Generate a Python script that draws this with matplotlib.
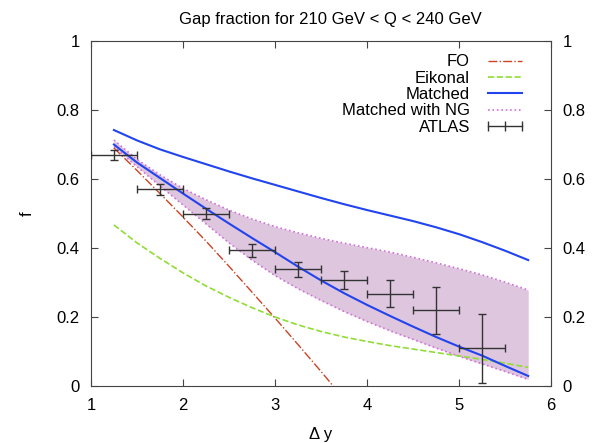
import numpy as np
import matplotlib
matplotlib.use("Agg")
import matplotlib.pyplot as plt
from matplotlib.lines import Line2D

plt.rcParams['font.family'] = ['Liberation Sans', 'DejaVu Sans']

# valeurs
dy = [1.25, 1.5, 1.75, 2.0, 2.25, 2.5, 2.75, 3.0, 3.25, 3.5, 3.75,
      4.0, 4.25, 4.5, 4.75, 5.0, 5.25, 5.5, 5.75]
fo_x = [1.25, 1.5, 1.75, 2.0, 2.25, 2.5, 2.75, 3.0, 3.25, 3.5, 3.75]
fo_y = [0.69, 0.625, 0.558, 0.49, 0.42, 0.347, 0.272, 0.197, 0.12, 0.042, -0.038]
eikonal = [0.467, 0.415, 0.37, 0.328, 0.29, 0.257, 0.227, 0.2, 0.177, 0.158, 0.142,
           0.129, 0.117, 0.107, 0.097, 0.087, 0.077, 0.066, 0.054]
matched = [0.742, 0.712, 0.686, 0.664, 0.643, 0.622, 0.602, 0.583, 0.564, 0.545, 0.527,
           0.510, 0.494, 0.478, 0.460, 0.440, 0.417, 0.392, 0.365]
matched_low = [0.70, 0.648, 0.603, 0.558, 0.514, 0.471, 0.429, 0.388, 0.346, 0.306, 0.269,
               0.235, 0.203, 0.172, 0.142, 0.114, 0.088, 0.058, 0.029]
ng_high = [0.713, 0.657, 0.612, 0.573, 0.54, 0.51, 0.484, 0.462, 0.444, 0.428, 0.414,
           0.401, 0.388, 0.373, 0.357, 0.34, 0.322, 0.301, 0.278]
ng_low = [0.694, 0.636, 0.58, 0.525, 0.47, 0.415, 0.365, 0.32, 0.282, 0.248, 0.216,
          0.187, 0.16, 0.135, 0.11, 0.086, 0.064, 0.042, 0.019]

atlas_x = [1.25, 1.75, 2.25, 2.75, 3.25, 3.75, 4.25, 4.75, 5.25]
atlas_y = [0.67, 0.57, 0.50, 0.393, 0.338, 0.307, 0.268, 0.219, 0.109]
atlas_err = [0.015, 0.016, 0.017, 0.019, 0.021, 0.027, 0.039, 0.068, 0.10]
atlas_xerr = [0.25] * 9

fig = plt.figure(figsize=(5.94, 4.43), dpi=100)
ax = fig.add_axes([0.153, 0.1287, 0.775, 0.7787])

# bande NG
ax.fill_between(dy, ng_low, ng_high, color='#dfc6df', lw=0, zorder=1)
ax.plot(dy, ng_high, ls=':', color='#d070d8', lw=1.2, zorder=2)
ax.plot(dy, ng_low, ls=':', color='#d070d8', lw=1.2, zorder=2)

ax.plot(fo_x, fo_y, ls='-.', color='#cc4422', lw=1.0, zorder=3)
ax.plot(dy, eikonal, ls='--', color='#90dd33', lw=1.2, zorder=3)
ax.plot(dy, matched, '-', color='#2244ee', lw=1.5, zorder=4)
ax.plot(dy, matched_low, '-', color='#2244ee', lw=1.5, zorder=4)

ax.errorbar(atlas_x, atlas_y, yerr=atlas_err, xerr=atlas_xerr, fmt='none',
            ecolor='#333333', elinewidth=1.0, capsize=3, capthick=1.0, zorder=5)

ax.set_xlim(1, 6)
ax.set_ylim(0, 1)
ax.set_xticks([1, 2, 3, 4, 5, 6])
ax.set_yticks([0, 0.2, 0.4, 0.6, 0.8, 1])
ax.set_yticklabels(['0', '0.2', '0.4', '0.6', '0.8', '1'])
ax.tick_params(direction='in', top=True, right=True, labelright=True,
               labelsize=12, length=5, color='#444444')
ax.tick_params(axis='x', pad=9)
ax.tick_params(axis='y', pad=8)
for s in ax.spines.values():
    s.set_color('#444444')

ax.set_xlabel('Δ y', fontsize=12, labelpad=10)
ax.set_ylabel('f', fontsize=12, rotation=90, labelpad=16)
ax.set_title('Gap fraction for 210 GeV < Q < 240 GeV', fontsize=12, pad=12, x=0.52)

handles = [
    Line2D([], [], ls='-.', color='#cc4422', lw=1.0),
    Line2D([], [], ls='--', color='#90dd33', lw=1.2),
    Line2D([], [], ls='-', color='#2244ee', lw=1.5),
    Line2D([], [], ls=':', color='#d070d8', lw=1.2),
    Line2D([], [], ls='-', color='#333333', lw=1.0, marker='|', markersize=7),
]
labels = ['FO', 'Eikonal', 'Matched', 'Matched with NG', 'ATLAS']
ax.legend(handles, labels, loc='upper right', frameon=False, numpoints=3,
          markerfirst=False, fontsize=12, handlelength=2.6, labelspacing=0.08,
          borderaxespad=0.3, bbox_to_anchor=(0.972, 0.995))

fig.savefig('out.png', dpi=100)
